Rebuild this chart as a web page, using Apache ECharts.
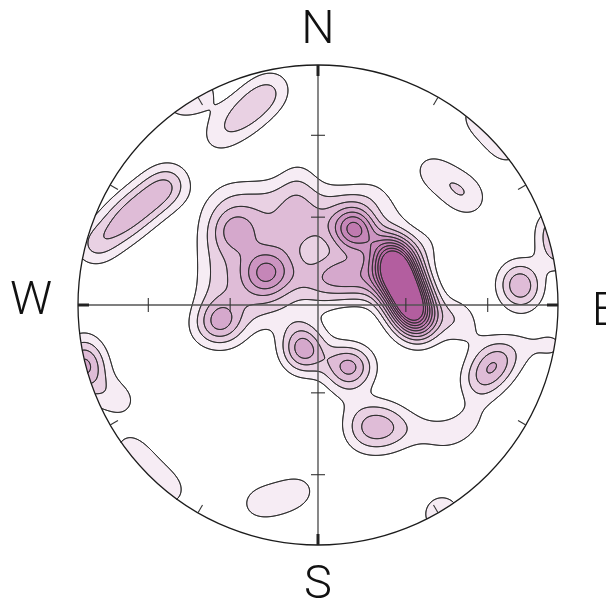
<!DOCTYPE html>
<html><head><meta charset="utf-8"><title>Stereonet density</title>
<script src="https://cdn.jsdelivr.net/npm/echarts@6/dist/echarts.min.js"></script>
<style>html,body{margin:0;padding:0;background:#fff;}#chart{width:606px;height:609px;}</style>
</head><body><div id="chart"></div>
<script>
// Pole concentrations on an equal-area net (unit circle): [x, y, count]
const polesNorthWest = [
 [-0.442,0.679,0.45],[-0.404,0.713,0.6],[-0.363,0.746,0.72],[-0.325,0.779,0.9],[-0.288,0.813,1.0],[-0.250,0.850,1.05],[-0.208,0.883,1.0],[-0.171,0.917,0.65],
 [-0.942,0.238,1.25],[-0.896,0.275,1.15],[-0.846,0.313,1.15],[-0.800,0.350,1.15],[-0.750,0.392,1.15],[-0.704,0.429,1.1],[-0.654,0.467,1.1],[-0.608,0.504,1.25],
 [-0.825,0.363,0.5],[-0.775,0.404,0.5],[-0.725,0.446,0.5],[-0.675,0.488,0.5],[-0.625,0.529,0.5],
 [-0.575,0.854,1.3],[-0.500,0.896,1.3]
];
const polesWestLobe = [
 [-0.388,0.458,0.65],[-0.304,0.458,0.7],[-0.221,0.458,0.7],[-0.138,0.458,0.65],
 [-0.429,0.375,0.75],[-0.346,0.375,0.85],[-0.263,0.375,0.85],[-0.179,0.375,0.85],[-0.096,0.375,0.7],
 [-0.442,0.292,0.75],[-0.358,0.292,0.85],[-0.275,0.292,0.85],[-0.192,0.292,0.85],[-0.108,0.292,0.6],
 [-0.442,0.208,0.75],[-0.358,0.208,0.85],[-0.275,0.208,0.85],[-0.192,0.208,0.85],[-0.108,0.208,0.45],
 [-0.442,0.125,0.7],[-0.358,0.125,0.85],[-0.275,0.125,0.85],[-0.192,0.125,0.85],[-0.108,0.125,0.6],
 [-0.450,0.042,0.7],[-0.367,0.042,0.85],[-0.283,0.042,0.85],[-0.200,0.042,0.85],[-0.117,0.042,0.6],
 [-0.450,-0.042,0.65],[-0.367,-0.042,0.7],[-0.283,-0.042,0.7],[-0.200,-0.042,0.55],
 [-0.429,-0.125,0.45],[-0.346,-0.125,0.45],[-0.492,-0.104,0.5],
 [-0.217,0.133,2.1],[-0.254,0.171,0.5],[-0.179,0.171,0.5],[-0.254,0.096,0.5],[-0.179,0.096,0.5],
 [-0.342,0.308,1.9],[-0.408,-0.071,2.6],[-0.083,0.554,0.6],[-0.075,0.479,0.9]
];
const polesCentre = [
 [0.029,0.438,0.7],[0.113,0.438,0.7],[0.196,0.438,0.6],
 [-0.075,0.417,0.9],[0.000,0.354,1.0],[-0.033,0.321,0.5],[-0.092,0.292,1.0],[0.050,0.292,1.0],[-0.108,0.179,0.75],[0.033,0.167,1.0],[-0.054,0.104,1.0],[0.008,0.000,0.5],
 [0.092,0.154,1.1],[0.175,0.154,1.1],
 [0.017,0.092,1.3],[0.092,0.092,1.5],[0.167,0.092,1.5],[0.242,0.092,1.3],
 [0.238,0.458,0.6],[0.321,0.388,0.6],
 [0.154,0.321,5.0],[0.108,0.363,0.9],[0.200,0.279,1.2],[0.133,0.271,0.8]
];
const polesMainPeak = [
 [0.296,0.246,2.0],[0.313,0.200,4.5],[0.333,0.150,4.5],[0.354,0.100,4.5],[0.371,0.050,4.5],[0.392,0,4.5],[0.408,-0.046,4.5],[0.421,-0.092,2.0],
 [0.279,0.179,1.0],[0.300,0.121,1.0],[0.321,0.063,1.0],[0.342,0.004,1.0],
 [0.446,0.250,0.8],[0.571,-0.054,1.5],[0.633,-0.125,0.5]
];
const polesSouth = [
 [-0.067,-0.158,2.4],[-0.058,-0.208,2.4],[-0.096,-0.071,0.6],[0.108,-0.258,2.2],[0.158,-0.258,2.2],[0.042,-0.221,0.6],
 [0.175,-0.479,1.0],[0.238,-0.471,1.0],[0.300,-0.479,0.95],[0.183,-0.546,1.0],[0.250,-0.546,1.0],[0.313,-0.538,0.85],[0.113,-0.363,0.5],
 [0.383,-0.513,0.6],[0.458,-0.529,0.6],[0.529,-0.550,0.65],[0.600,-0.521,0.65],[0.654,-0.458,0.7]
];
const polesEast = [
 [0.675,-0.321,1.8],[0.721,-0.263,2.2],[0.767,-0.213,1.8],[0.863,-0.167,0.6],[0.979,-0.167,1.0],
 [0.838,0.108,2.1],[0.846,0.054,2.1],[0.996,0.321,2.2],[1.008,0.229,2.2],
 [0.446,0.579,0.6],[0.500,0.542,0.8],[0.554,0.504,0.8],[0.608,0.463,1.1],[0.650,0.425,0.55],
 [0.667,0.792,1.2],[0.733,0.729,1.2],[0.792,0.654,1.2]
];
const polesRim = [
 [-0.791,-0.596,1.0],[-0.736,-0.662,1.0],[-0.675,-0.724,1.0],[-0.610,-0.780,1.0],
 [-0.975,-0.250,3.4],[-0.975,-0.167,0.9],[-0.950,-0.333,1.2],[-0.867,-0.375,0.9],[-0.804,-0.408,0.7],
 [-0.283,-0.833,0.4],[-0.242,-0.825,0.7],[-0.179,-0.813,0.75],[-0.117,-0.792,0.75],[-0.058,-0.767,0.7],[0.517,-0.871,1.8]
];
const contourLevels = [1,2,3,4,5,6,7,8,9,10];
const levelColors = ['#f6ecf4','#e9d1e3','#dfbcd7','#d5a8cc','#cc94c1','#c586b8','#c07ab0','#bb6fa9','#b766a4','#b35e9f'];
const rimTickAzimuths = [30,60,120,150,210,240,300,330];
const axisTickDips = [30,60];
const directionLabels = ['N','E','S','W'];

// ---- density grid (Gaussian kernel) ----
const poles = [].concat(polesNorthWest, polesWestLobe, polesCentre, polesMainPeak, polesSouth, polesEast, polesRim);
const SIGMA = 0.0625, N = 480, h = 2 / N;
const D = new Float64Array(N * N);
(function () {
  const k = 1 / (2 * SIGMA * SIGMA), r = 4.5 * SIGMA;
  for (const [px, py, w] of poles) {
    const i0 = Math.max(0, Math.floor((px - r + 1) / h)), i1 = Math.min(N - 1, Math.ceil((px + r + 1) / h));
    const j0 = Math.max(0, Math.floor((py - r + 1) / h)), j1 = Math.min(N - 1, Math.ceil((py + r + 1) / h));
    for (let j = j0; j <= j1; j++) {
      const dy = -1 + (j + 0.5) * h - py;
      for (let i = i0; i <= i1; i++) {
        const dx = -1 + (i + 0.5) * h - px;
        D[j * N + i] += w * Math.exp(-(dx * dx + dy * dy) * k);
      }
    }
  }
})();
function levelOf(v) { let k = 0; while (k < contourLevels.length && v >= contourLevels[k]) k++; return k; }

const fillRuns = [];
for (let j = 0; j < N; j++) {
  const y = -1 + (j + 0.5) * h; let cur = 0, start = 0;
  for (let i = 0; i <= N; i++) {
    let lv = 0;
    if (i < N) { const x = -1 + (i + 0.5) * h; if (x * x + y * y <= 1) lv = levelOf(D[j * N + i]); }
    if (lv !== cur) { if (cur > 0) fillRuns.push([-1 + start * h, -1 + i * h, y, cur]); cur = lv; start = i; }
  }
}

function contourSegments(L) {
  const segs = [];
  for (let j = 0; j < N - 1; j++) {
    const y0 = -1 + (j + 0.5) * h;
    for (let i = 0; i < N - 1; i++) {
      const x0 = -1 + (i + 0.5) * h;
      const xc = x0 + h / 2, yc = y0 + h / 2;
      if (xc * xc + yc * yc > 1) continue;
      const v0 = D[j * N + i], v1 = D[j * N + i + 1], v2 = D[(j + 1) * N + i + 1], v3 = D[(j + 1) * N + i];
      const c = (v0 >= L ? 1 : 0) | (v1 >= L ? 2 : 0) | (v2 >= L ? 4 : 0) | (v3 >= L ? 8 : 0);
      if (c === 0 || c === 15) continue;
      const E = [
        () => [x0 + h * (L - v0) / (v1 - v0), y0],
        () => [x0 + h, y0 + h * (L - v1) / (v2 - v1)],
        () => [x0 + h * (L - v3) / (v2 - v3), y0 + h],
        () => [x0, y0 + h * (L - v0) / (v3 - v0)]
      ];
      const add = (a, b) => { const p = E[a](), q = E[b](); segs.push(p[0], p[1], q[0], q[1]); };
      const mid = (v0 + v1 + v2 + v3) / 4 >= L;
      switch (c) {
        case 1: case 14: add(3, 0); break;
        case 2: case 13: add(0, 1); break;
        case 3: case 12: add(3, 1); break;
        case 4: case 11: add(1, 2); break;
        case 6: case 9: add(0, 2); break;
        case 7: case 8: add(3, 2); break;
        case 5: if (mid) { add(0, 1); add(2, 3); } else { add(3, 0); add(1, 2); } break;
        case 10: if (mid) { add(3, 0); add(1, 2); } else { add(0, 1); add(2, 3); } break;
      }
    }
  }
  return segs;
}
const contourSegs = contourLevels.map(contourSegments);

const chart = echarts.init(document.getElementById('chart'), null, { renderer: 'canvas' });
const F = v => v.toFixed(2);
chart.setOption({
  animation: false,
  backgroundColor: '#ffffff',
  grid: { left: 78, top: 65, width: 480, height: 480, containLabel: false },
  xAxis: { type: 'value', min: -1, max: 1, show: false },
  yAxis: { type: 'value', min: -1, max: 1, show: false },
  series: [
    {
      type: 'custom', name: 'density', z: 1, progressive: 0, silent: true,
      data: fillRuns, encode: { x: [0, 1], y: 2 },
      renderItem: function (params, api) {
        const y = api.value(2);
        const p0 = api.coord([api.value(0), y + h / 2]);
        const p1 = api.coord([api.value(1), y - h / 2]);
        return { type: 'rect', shape: { x: p0[0], y: p0[1], width: p1[0] - p0[0], height: p1[1] - p0[1] },
          style: { fill: levelColors[api.value(3) - 1] } };
      }
    },
    {
      type: 'custom', name: 'contours', z: 2, silent: true,
      data: contourLevels.map((L, k) => [0, 0, k]), encode: { x: 0, y: 1 },
      renderItem: function (params, api) {
        const s = contourSegs[api.value(2)];
        let d = '';
        for (let n = 0; n < s.length; n += 4) {
          const p = api.coord([s[n], s[n + 1]]), q = api.coord([s[n + 2], s[n + 3]]);
          d += 'M' + F(p[0]) + ' ' + F(p[1]) + 'L' + F(q[0]) + ' ' + F(q[1]);
        }
        return { type: 'path', shape: { pathData: d }, style: { fill: 'none', stroke: '#2f2f2f', lineWidth: 1, lineCap: 'round', lineJoin: 'round' } };
      }
    },
    {
      type: 'custom', name: 'net', z: 3, silent: true,
      data: [[0, 0]], encode: { x: 0, y: 1 },
      renderItem: function (params, api) {
        const c = api.coord([0, 0]);
        const R = api.size([1, 1])[0];
        const kids = [];
        const line = (a, b, w, col) => kids.push({ type: 'line', shape: { x1: a[0], y1: a[1], x2: b[0], y2: b[1] }, style: { stroke: col, lineWidth: w } });
        line(api.coord([-1, 0]), api.coord([1, 0]), 1.4, '#555');
        line(api.coord([0, -1]), api.coord([0, 1]), 1.4, '#555');
        kids.push({ type: 'circle', shape: { cx: c[0], cy: c[1], r: R }, style: { fill: 'none', stroke: '#1c1c1c', lineWidth: 1.3 } });
        const t = 7 / R;
        axisTickDips.forEach(d => {
          const r = Math.SQRT2 * Math.sin(d * Math.PI / 360);
          [1, -1].forEach(sg => {
            line(api.coord([sg * r, -t]), api.coord([sg * r, t]), 1.1, '#333');
            line(api.coord([-t, sg * r]), api.coord([t, sg * r]), 1.1, '#333');
          });
        });
        rimTickAzimuths.forEach(az => {
          const a = az * Math.PI / 180, sx = Math.sin(a), sy = Math.cos(a), ri = 1 - 9 / R;
          line(api.coord([sx, sy]), api.coord([sx * ri, sy * ri]), 1.1, '#333');
        });
        [0, 90, 180, 270].forEach(az => {
          const a = az * Math.PI / 180, sx = Math.sin(a), sy = Math.cos(a), ri = 1 - 11 / R;
          line(api.coord([sx, sy]), api.coord([sx * ri, sy * ri]), 3, '#222');
        });
        return { type: 'group', children: kids };
      }
    },
    {
      type: 'custom', name: 'labels', z: 4, silent: true,
      data: directionLabels.map((t, k) => [Math.sin(k * Math.PI / 2), Math.cos(k * Math.PI / 2), k]), encode: { x: 0, y: 1 },
      renderItem: function (params, api) {
        const k = api.value(2);
        const p = api.coord([api.value(0), api.value(1)]);
        const off = [[0, -34], [47, 8], [0, 41], [-47, -3]][k];
        return { type: 'text', x: p[0] + off[0], y: p[1] + off[1],
          style: { text: directionLabels[k], fill: '#111', fontSize: 47, fontWeight: 300, fontFamily: 'Roboto, "Liberation Sans", sans-serif', align: 'center', verticalAlign: 'middle' } };
      }
    }
  ]
});
</script>
</body></html>
